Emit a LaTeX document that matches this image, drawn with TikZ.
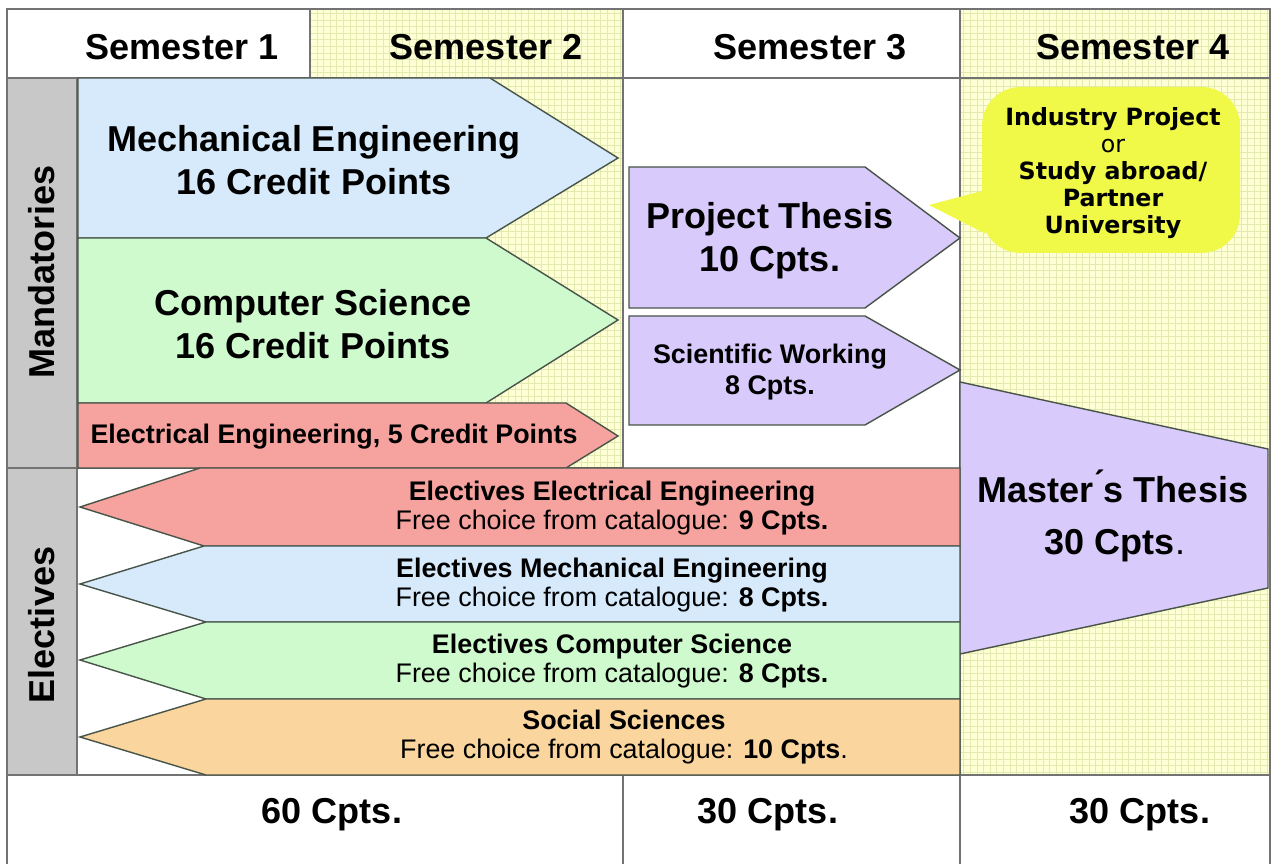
\documentclass[tikz,border=0pt]{standalone}
\usepackage{fontspec}
\setmainfont{Liberation Sans}
\newfontfamily\bubblefont{DejaVu Sans}
\definecolor{MechBlue}{RGB}{214,234,252}
\definecolor{CompGreen}{RGB}{206,250,206}
\definecolor{ElecRed}{RGB}{246,162,158}
\definecolor{SocOrange}{RGB}{250,214,158}
\definecolor{ThesisLilac}{RGB}{216,202,250}
\definecolor{NoteYellow}{RGB}{240,248,72}
\definecolor{PaleYellow}{RGB}{255,255,214}
\definecolor{GridGreen}{RGB}{226,234,176}
\definecolor{SideGray}{RGB}{200,200,200}
\definecolor{RuleGray}{RGB}{115,115,115}
\definecolor{EdgeDark}{RGB}{72,84,72}

\begin{document}
\begin{tikzpicture}[x=0.02cm,y=-0.02cm,
  rule/.style={draw=RuleGray,line width=1pt},
  gridline/.style={draw=GridGreen,line width=0.3pt},
  pennant/.style={draw=EdgeDark,line width=0.8pt,line join=miter},
  every node/.style={inner sep=0pt,align=center,text=black},
  head/.style={font=\bfseries\fontsize{20.5}{24.5}\selectfont},
  mid/.style={font=\bfseries\fontsize{15.3}{18}\selectfont},
  elec/.style={font=\fontsize{15.3}{16.5}\selectfont},
  note/.style={font=\bubblefont\bfseries\fontsize{13.5}{15.4}\selectfont}]
  \useasboundingbox (0,0) rectangle (1275,864);
  \fill[white] (0,0) rectangle (1275,864);

  % checkered background of semesters 2 and 4
  \begin{scope}
    \clip (310,9) rectangle (623,468) (960,9) rectangle (1270,775);
    \fill[PaleYellow] (0,0) rectangle (1275,864);
    \foreach \gx in {0,6.6,...,1275} \draw[gridline] (\gx,0) -- (\gx,864);
    \foreach \gy in {0,6.6,...,864} \draw[gridline] (0,\gy) -- (1275,\gy);
  \end{scope}

  % table rules
  \draw[rule] (7,864) -- (7,9) -- (1270,9) -- (1270,864);
  \draw[rule] (7,78) -- (1270,78);
  \draw[rule] (310,9) -- (310,78);
  \draw[rule] (623,9) -- (623,864);
  \draw[rule] (960,9) -- (960,864);
  \draw[rule] (7,468) -- (623,468);
  \draw[rule] (7,775) -- (1270,775);
  \filldraw[rule,fill=SideGray] (7,78) rectangle (77,775);
  \draw[rule] (7,468) -- (77,468);

  % mandatory modules
  \filldraw[pennant,fill=MechBlue] (78,78) -- (490,78) -- (618,158) -- (486,238) -- (78,238) -- cycle;
  \filldraw[pennant,fill=CompGreen] (78,238) -- (486,238) -- (618,320) -- (486,403) -- (78,403) -- cycle;
  \filldraw[pennant,fill=ElecRed] (78,403) -- (566,403) -- (618,436) -- (566,468) -- (78,468) -- cycle;
  \filldraw[pennant,fill=ThesisLilac] (629,167) -- (865,167) -- (960,238) -- (865,308) -- (629,308) -- cycle;
  \filldraw[pennant,fill=ThesisLilac] (629,316) -- (865,316) -- (960,370) -- (865,425) -- (629,425) -- cycle;
  \filldraw[pennant,fill=ThesisLilac] (960,382) -- (1268,449) -- (1268,588) -- (960,654) -- cycle;

  % electives, pointing back
  \filldraw[pennant,fill=ElecRed] (960,468) -- (200,468) -- (80,507) -- (204,546) -- (960,546) -- cycle;
  \filldraw[pennant,fill=MechBlue] (960,546) -- (204,546) -- (80,584) -- (206,622) -- (960,622) -- cycle;
  \filldraw[pennant,fill=CompGreen] (960,622) -- (206,622) -- (80,660) -- (206,699) -- (960,699) -- cycle;
  \filldraw[pennant,fill=SocOrange] (960,699) -- (206,699) -- (80,737) -- (206,775) -- (960,775) -- cycle;

  % speech bubble
  \fill[NoteYellow,rounded corners=22] (982,87) rectangle (1240,253);
  \fill[NoteYellow] (986,190) -- (929,205) -- (986,234) -- cycle;

  % headings
  \node (sem1) [head] at (182,47) {Semester 1};
  \node (sem2) [head] at (486,47) {Semester 2};
  \node (sem3) [head] at (810,47) {Semester 3};
  \node (sem4) [head] at (1133,47) {Semester 4};
  \node (mand) [head,rotate=90] at (42,272) {Mandatories};
  \node (elect) [head,rotate=90] at (42,625) {Electives};

  \node (mech) [head] at (314,160) {Mechanical Engineering\\16 Credit Points};
  \node (comp) [head] at (313,324) {Computer Science\\16 Credit Points};
  \node (elec) [mid] at (334,437) {Electrical Engineering, 5 Credit Points};
  \node (proj) [head] at (770,241) {Project Thesis\\10 Cpts.};
  \node (sci) [mid] at (770,372) {Scientific Working\\8 Cpts.};
  \node (abroad) [note] at (1113,173) {Industry Project\\{\mdseries or}\\Study abroad/\\Partner\\University};
  \node (master) [head] at (1113,486) {Master\'{}s Thesis};
  \node (masterpts) [head] at (1115,546) {30 Cpts\mdseries.};

  \node (eleEE) [elec] at (612,508) {\textbf{Electives Electrical Engineering}\\Free choice from catalogue: \textbf{9 Cpts.}};
  \node (eleME) [elec] at (612,585) {\textbf{Electives Mechanical Engineering}\\Free choice from catalogue: \textbf{8 Cpts.}};
  \node (eleCS) [elec] at (612,661) {\textbf{Electives Computer Science}\\Free choice from catalogue: \textbf{8 Cpts.}};
  \node (eleSoc) [elec] at (624,737) {\textbf{Social Sciences}\\Free choice from catalogue: \textbf{10 Cpts}.};

  % totals
  \node (sum12) [head] at (332,815) {60 Cpts.};
  \node (sum3) [head] at (768,815) {30 Cpts.};
  \node (sum4) [head] at (1140,815) {30 Cpts.};
\end{tikzpicture}
\end{document}
